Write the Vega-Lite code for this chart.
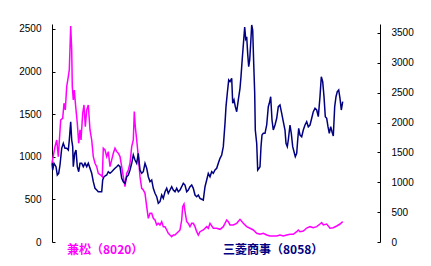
{
  "$schema": "https://vega.github.io/schema/vega-lite/v6.json",
  "width": 328,
  "height": 218,
  "autosize": {"type": "none"},
  "padding": {"left": 52, "top": 24, "right": 51, "bottom": 24},
  "background": "white",
  "config": {"view": {"stroke": null}, "axis": {"grid": false}},
  "datasets": {
    "kanematsu": [
      {"t":0,"v":927},{"t":3,"v":1119},{"t":4.7,"v":1197},{"t":6.3,"v":1001},{"t":8.7,"v":1432},{"t":10.7,"v":1452},{"t":12,"v":1628},{"t":13.3,"v":1550},{"t":14.7,"v":1823},{"t":16.3,"v":1941},{"t":17.3,"v":2019},{"t":18.7,"v":2535},{"t":19.7,"v":2254},{"t":20.3,"v":1823},{"t":21.3,"v":1667},{"t":22.3,"v":1784},{"t":23.7,"v":1588},{"t":25.3,"v":1393},{"t":26.7,"v":1158},{"t":28,"v":1315},{"t":29,"v":1197},{"t":30.7,"v":1511},{"t":32,"v":1608},{"t":33.3,"v":1354},{"t":34.7,"v":1549},{"t":36.3,"v":1608},{"t":38,"v":1315},{"t":39.7,"v":1197},{"t":41.3,"v":1002},{"t":43,"v":924},{"t":44.7,"v":884},{"t":46.3,"v":806},{"t":48.7,"v":786},{"t":50.3,"v":767},{"t":51.3,"v":1100},{"t":53,"v":1080},{"t":54.7,"v":1002},{"t":56.3,"v":1060},{"t":58,"v":884},{"t":59.7,"v":963},{"t":61.3,"v":1041},{"t":63,"v":1100},{"t":64.7,"v":1060},{"t":66.3,"v":1041},{"t":68,"v":1002},{"t":69.7,"v":884},{"t":71.3,"v":767},{"t":73,"v":649},{"t":74.7,"v":806},{"t":76.3,"v":845},{"t":78,"v":924},{"t":79.7,"v":1119},{"t":81.3,"v":1197},{"t":82.3,"v":1530},{"t":83.3,"v":1354},{"t":84.7,"v":1197},{"t":86.3,"v":1002},{"t":88,"v":767},{"t":89.7,"v":630},{"t":91.3,"v":610},{"t":93,"v":571},{"t":94.7,"v":415},{"t":96.3,"v":278},{"t":98,"v":337},{"t":99.7,"v":337},{"t":101.3,"v":278},{"t":103,"v":258},{"t":104.7,"v":200},{"t":106.3,"v":219},{"t":108,"v":200},{"t":109.7,"v":239},{"t":111.3,"v":180},{"t":113,"v":180},{"t":114.7,"v":141},{"t":116.3,"v":102},{"t":118,"v":82},{"t":119.7,"v":63},{"t":121.3,"v":82},{"t":123,"v":82},{"t":124.7,"v":102},{"t":126.3,"v":121},{"t":128,"v":141},{"t":129.7,"v":258},{"t":130.7,"v":415},{"t":132,"v":446},{"t":133.3,"v":337},{"t":134.7,"v":239},{"t":136.3,"v":219},{"t":138,"v":180},{"t":139.7,"v":219},{"t":141.3,"v":219},{"t":143,"v":180},{"t":144.7,"v":121},{"t":146.3,"v":82},{"t":148,"v":121},{"t":151.3,"v":141},{"t":154.7,"v":180},{"t":156.3,"v":161},{"t":158,"v":219},{"t":161.3,"v":161},{"t":164.7,"v":161},{"t":168,"v":149},{"t":171.3,"v":180},{"t":174.7,"v":258},{"t":176.3,"v":239},{"t":178,"v":200},{"t":181.3,"v":200},{"t":184.7,"v":219},{"t":188,"v":266},{"t":191.3,"v":219},{"t":194.7,"v":180},{"t":198,"v":161},{"t":201.3,"v":141},{"t":204.7,"v":102},{"t":208,"v":90},{"t":211.3,"v":102},{"t":214.7,"v":82},{"t":218,"v":70},{"t":224.7,"v":70},{"t":228,"v":82},{"t":231.3,"v":70},{"t":234.7,"v":82},{"t":238,"v":90},{"t":241.3,"v":90},{"t":244.7,"v":121},{"t":246.3,"v":141},{"t":248,"v":121},{"t":251.3,"v":129},{"t":254.7,"v":164},{"t":258,"v":180},{"t":261.3,"v":168},{"t":264.7,"v":180},{"t":268,"v":211},{"t":269.7,"v":227},{"t":271.3,"v":200},{"t":274.7,"v":211},{"t":278,"v":161},{"t":281.3,"v":168},{"t":284.7,"v":188},{"t":288,"v":211},{"t":290.7,"v":239}
    ],
    "mitsubishi": [
      {"t":0,"v":1318},{"t":0.7,"v":1205},{"t":2,"v":1318},{"t":4,"v":1261},{"t":5.3,"v":1122},{"t":6.7,"v":1150},{"t":8,"v":1289},{"t":9.7,"v":1569},{"t":11.3,"v":1652},{"t":13,"v":1569},{"t":14.7,"v":1569},{"t":16.3,"v":1540},{"t":17.3,"v":1708},{"t":18.7,"v":2014},{"t":19.7,"v":1708},{"t":20.7,"v":1596},{"t":21.3,"v":1261},{"t":22.7,"v":1485},{"t":24,"v":1540},{"t":25.3,"v":1261},{"t":26.7,"v":1177},{"t":28,"v":1318},{"t":29.7,"v":1318},{"t":31.3,"v":1261},{"t":33,"v":1318},{"t":34.7,"v":1261},{"t":36.3,"v":1318},{"t":38,"v":1234},{"t":39.7,"v":1150},{"t":41.3,"v":1010},{"t":43,"v":899},{"t":44.7,"v":871},{"t":46.3,"v":842},{"t":49.7,"v":842},{"t":50.7,"v":1038},{"t":52,"v":1093},{"t":54.7,"v":1122},{"t":56.3,"v":1177},{"t":58,"v":1150},{"t":59.7,"v":1177},{"t":61.3,"v":1205},{"t":63,"v":1234},{"t":64.7,"v":1261},{"t":66.3,"v":1289},{"t":68,"v":1261},{"t":69.7,"v":1066},{"t":71.3,"v":1010},{"t":73,"v":983},{"t":74.7,"v":1093},{"t":76.3,"v":1122},{"t":78,"v":1205},{"t":79.7,"v":1318},{"t":81.3,"v":1457},{"t":83,"v":1373},{"t":84.7,"v":1318},{"t":86.3,"v":1485},{"t":88,"v":1205},{"t":89.7,"v":1150},{"t":91.3,"v":1177},{"t":93,"v":1318},{"t":94.7,"v":1234},{"t":96.3,"v":1093},{"t":98,"v":1010},{"t":99.7,"v":1038},{"t":101.3,"v":899},{"t":103,"v":815},{"t":104.7,"v":759},{"t":106.3,"v":648},{"t":108,"v":675},{"t":109.7,"v":787},{"t":111.3,"v":731},{"t":113,"v":842},{"t":114.7,"v":899},{"t":116.3,"v":815},{"t":118,"v":871},{"t":119.7,"v":926},{"t":121.3,"v":871},{"t":123,"v":842},{"t":124.7,"v":899},{"t":126.3,"v":842},{"t":128,"v":871},{"t":129.7,"v":926},{"t":131.3,"v":983},{"t":133,"v":954},{"t":134.7,"v":842},{"t":136.3,"v":871},{"t":138,"v":926},{"t":139.7,"v":954},{"t":141.3,"v":899},{"t":143,"v":787},{"t":144.7,"v":759},{"t":146.3,"v":787},{"t":148,"v":731},{"t":151.3,"v":703},{"t":153,"v":926},{"t":154.7,"v":1038},{"t":156.3,"v":1150},{"t":158,"v":1093},{"t":159.7,"v":1177},{"t":161.3,"v":1150},{"t":163,"v":1205},{"t":164.7,"v":1234},{"t":166.3,"v":1318},{"t":168,"v":1401},{"t":169.7,"v":1457},{"t":171.3,"v":1596},{"t":173,"v":1987},{"t":174,"v":2266},{"t":175.3,"v":2490},{"t":176.7,"v":2712},{"t":178,"v":2684},{"t":179.7,"v":2741},{"t":180.7,"v":2322},{"t":182,"v":2378},{"t":183.3,"v":2266},{"t":184.7,"v":2182},{"t":186.3,"v":2378},{"t":188,"v":2573},{"t":189,"v":2768},{"t":190.3,"v":3076},{"t":191.7,"v":3382},{"t":192.7,"v":3600},{"t":193.7,"v":3400},{"t":194.7,"v":3437},{"t":195.7,"v":3150},{"t":196.7,"v":2935},{"t":197.7,"v":3047},{"t":198.7,"v":3327},{"t":199.7,"v":3633},{"t":200.7,"v":3550},{"t":201.7,"v":2992},{"t":202.7,"v":2490},{"t":203.3,"v":1875},{"t":204.7,"v":1652},{"t":205.7,"v":1205},{"t":207,"v":1234},{"t":208,"v":1261},{"t":209,"v":1596},{"t":210,"v":1791},{"t":211.3,"v":1819},{"t":213,"v":1819},{"t":214.7,"v":1959},{"t":216.3,"v":2266},{"t":217.3,"v":2322},{"t":218.7,"v":2433},{"t":220,"v":2043},{"t":221.3,"v":1875},{"t":223,"v":1959},{"t":224.7,"v":2071},{"t":226.3,"v":2266},{"t":228,"v":2294},{"t":229.7,"v":2155},{"t":231.3,"v":2014},{"t":233,"v":1875},{"t":234,"v":1652},{"t":235.3,"v":1596},{"t":236.3,"v":1708},{"t":238,"v":1959},{"t":239.3,"v":1819},{"t":240.7,"v":1596},{"t":242,"v":1512},{"t":243.3,"v":1428},{"t":244.7,"v":1485},{"t":245.7,"v":1708},{"t":246.7,"v":1904},{"t":248,"v":1791},{"t":249.7,"v":1763},{"t":251.3,"v":1875},{"t":253,"v":1959},{"t":254.7,"v":2014},{"t":256.3,"v":1930},{"t":258,"v":1959},{"t":259.7,"v":2071},{"t":261.3,"v":2182},{"t":263,"v":2238},{"t":264.7,"v":2210},{"t":266.3,"v":2098},{"t":268,"v":2433},{"t":269.3,"v":2768},{"t":270.7,"v":2684},{"t":272,"v":2433},{"t":273.3,"v":2098},{"t":274.7,"v":2071},{"t":276,"v":1930},{"t":277.3,"v":1819},{"t":278.7,"v":1930},{"t":280,"v":1847},{"t":281.3,"v":1775},{"t":282.7,"v":2266},{"t":284,"v":2433},{"t":285.3,"v":2517},{"t":286.7,"v":2545},{"t":288,"v":2406},{"t":289.3,"v":2210},{"t":290.7,"v":2349}
    ],
    "labels": [
      {"t": 15, "v": -94, "label": "兼松（8020）"},
      {"t": 171, "v": -94, "label": "三菱商事（8058）"}
    ]
  },
  "layer": [
    {
      "data": {"name": "kanematsu"},
      "mark": {"type": "line", "color": "#FF00FF", "strokeWidth": 1.5},
      "encoding": {
        "x": {"field": "t", "type": "quantitative", "scale": {"domain": [0, 328], "nice": false, "zero": false}, "axis": null},
        "y": {"field": "v", "type": "quantitative", "scale": {"domain": [0, 2558], "nice": false},
          "axis": {"orient": "left", "values": [0, 500, 1000, 1500, 2000, 2500], "format": "d", "title": null, "domainColor": "black", "tickColor": "black", "labelColor": "black", "labelFont": "Liberation Sans", "labelFontSize": 10, "tickSize": -3, "labelPadding": 14, "domainWidth": 1, "tickWidth": 1}}
      }
    },
    {
      "data": {"name": "mitsubishi"},
      "mark": {"type": "line", "color": "#000080", "strokeWidth": 1.5},
      "encoding": {
        "x": {"field": "t", "type": "quantitative", "axis": null},
        "y": {"field": "v", "type": "quantitative", "scale": {"domain": [0, 3650], "nice": false},
          "axis": {"orient": "right", "values": [0, 500, 1000, 1500, 2000, 2500, 3000, 3500], "format": "d", "title": null, "domainColor": "black", "tickColor": "black", "labelColor": "black", "labelFont": "Liberation Sans", "labelFontSize": 10, "tickSize": -3, "labelPadding": 14, "domainWidth": 1, "tickWidth": 1}}
      }
    },
    {
      "data": {"name": "labels"},
      "mark": {"type": "text", "align": "left", "baseline": "middle", "font": "Noto Sans CJK JP", "fontSize": 12, "fontWeight": "bold"},
      "encoding": {
        "x": {"field": "t", "type": "quantitative", "axis": null},
        "y": {"field": "v", "type": "quantitative", "scale": {"domain": [0, 2558], "nice": false}, "axis": null},
        "text": {"field": "label"},
        "color": {"field": "label", "type": "nominal", "scale": {"domain": ["兼松（8020）", "三菱商事（8058）"], "range": ["#FF00FF", "#000080"]}, "legend": null}
      }
    }
  ],
  "resolve": {"scale": {"y": "independent"}}
}
